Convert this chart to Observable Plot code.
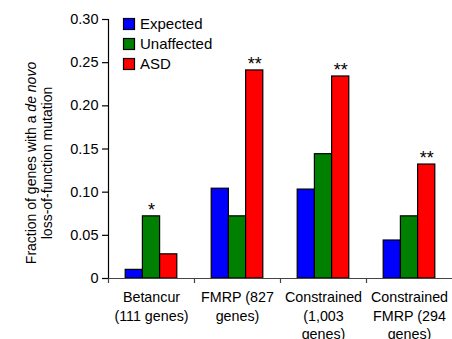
<!DOCTYPE html>
<html><head><meta charset="utf-8">
<script src="https://cdn.jsdelivr.net/npm/d3@7"></script>
<script src="https://cdn.jsdelivr.net/npm/@observablehq/plot@0.6"></script>
<style>
body{margin:0;background:#fff;}
svg{display:block;}
</style>
</head><body><div id="chart"></div>
<script>
const categories = ["Betancur\n(111 genes)", "FMRP (827\ngenes)", "Constrained\n(1,003\ngenes)", "Constrained\nFMRP (294\ngenes)"];
const seriesNames = ["Expected", "Unaffected", "ASD"];
const seriesColors = ["#0000ff", "#008000", "#ff0000"];
const expected = [0.010, 0.104, 0.103, 0.044];
const unaffected = [0.072, 0.072, 0.144, 0.072];
const asd = [0.028, 0.241, 0.234, 0.132];
const starText = ["*", "**", "**", "**"];
const starSeries = ["Unaffected", "ASD", "ASD", "ASD"];
const yTicks = [0, 0.05, 0.10, 0.15, 0.20, 0.25, 0.30];

const font = "'Liberation Sans', Arial, Helvetica, sans-serif";
const seriesValues = [expected, unaffected, asd];
const bw = 0.2; // bar width in category units

const bars = [];
categories.forEach((c, i) => {
  seriesNames.forEach((s, j) => {
    const x1 = i + 0.5 + (j - 1.5) * bw;
    bars.push({cat: c, i, series: s, value: seriesValues[j][i], x1, x2: x1 + bw});
  });
});
const stars = categories.map((c, i) => bars.find(b => b.i === i && b.series === starSeries[i]))
  .map((b, i) => ({...b, text: starText[i]}));
const catData = categories.map((c, i) => ({label: c, x: i + 0.5}));

const plot = Plot.plot({
  width: 452,
  height: 339,
  marginTop: 19,
  marginBottom: 61,
  marginLeft: 108,
  marginRight: 0,
  style: {fontFamily: font, fontSize: "14px", background: "#fff", color: "#000"},
  x: {domain: [0, 4], axis: null},
  y: {domain: [0, 0.30], axis: null},
  color: {domain: seriesNames, range: seriesColors},
  marks: [
    Plot.rectY(bars, {x1: "x1", x2: "x2", y1: 0, y2: "value", fill: "series", stroke: "#000", strokeWidth: 1.2}),
    Plot.ruleY([0], {stroke: "#444", strokeWidth: 1.2}),
    Plot.ruleX([0], {y1: 0, y2: 0.30, stroke: "#000", strokeWidth: 1.2}),
    Plot.axisY({ticks: yTicks, tickFormat: d => d === 0 ? "0" : d.toFixed(2), tickSize: 6, tickPadding: 4, fontSize: 14.5, label: null, strokeWidth: 1.2}),
    Plot.axisX({ticks: [0, 1, 2, 3], tickFormat: () => "", tickSize: 5, label: null, stroke: "#444", strokeWidth: 1.2}),
    Plot.text(catData, {x: "x", y: 0, text: "label", lineAnchor: "top", dy: 11, lineHeight: 1.27, fontSize: 14.3, fill: "#000"}),
    Plot.text(stars, {x: d => (d.x1 + d.x2) / 2, y: "value", text: "text", lineAnchor: "middle", dy: -6, fontSize: 18, fill: "#000"})
  ]
});

const svg = d3.select(plot);
// y-axis title
const yt = svg.append("text")
  .attr("transform", "translate(39,163) rotate(-90)")
  .attr("text-anchor", "middle")
  .attr("font-size", 14)
  .attr("font-family", font)
  .attr("fill", "#000");
const l1 = yt.append("tspan").attr("x", 0).attr("dy", "-0.2em");
l1.append("tspan").text("Fraction of genes with a ");
l1.append("tspan").attr("font-style", "italic").text("de novo");
yt.append("tspan").attr("x", 0).attr("dy", "1.1em").text("loss-of-function mutation");

// legend
const lg = svg.append("g").attr("font-family", font).attr("font-size", 15).attr("text-anchor", "start");
seriesNames.forEach((s, j) => {
  const cy = 24 + j * 20;
  lg.append("rect").attr("x", 123.5).attr("y", cy - 5.5).attr("width", 11).attr("height", 11)
    .attr("fill", seriesColors[j]).attr("stroke", "#000").attr("stroke-width", 1.2);
  lg.append("text").attr("x", 140).attr("y", cy).attr("dy", "0.36em").attr("fill", "#000").attr("text-anchor", "start").text(s);
});

document.getElementById("chart").appendChild(plot);
</script>
</body></html>
